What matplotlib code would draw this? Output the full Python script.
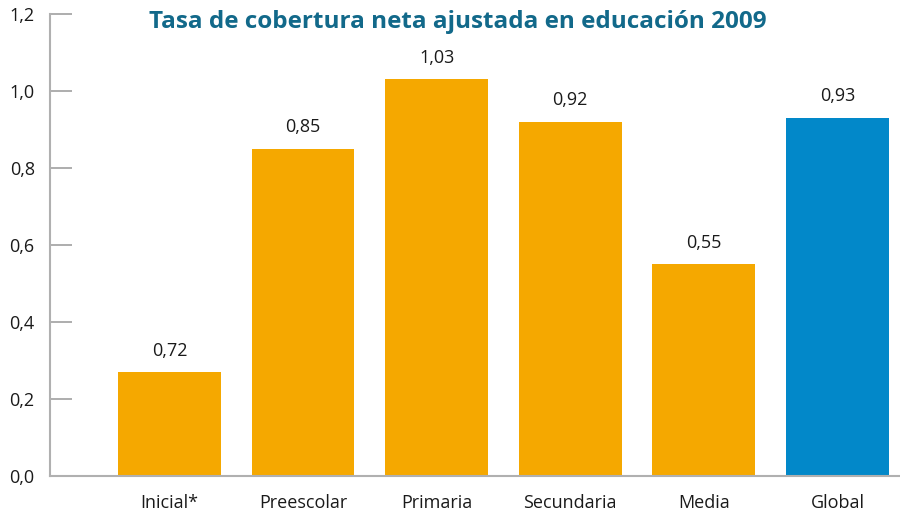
import matplotlib
matplotlib.use("Agg")
import matplotlib.pyplot as plt

categories = ["Inicial*", "Preescolar", "Primaria", "Secundaria", "Media", "Global"]
bar_values = [0.27, 0.85, 1.03, 0.92, 0.55, 0.93]
value_labels = ["0,72", "0,85", "1,03", "0,92", "0,55", "0,93"]
bar_colors = ["#F5A800", "#F5A800", "#F5A800", "#F5A800", "#F5A800", "#0288C9"]
yticks = [0.0, 0.2, 0.4, 0.6, 0.8, 1.0, 1.2]
ytick_labels = ["0,0", "0,2", "0,4", "0,6", "0,8", "1,0", "1,2"]

plt.rcParams['font.family'] = ['Open Sans', 'DejaVu Sans']

fig = plt.figure(figsize=(9, 5.13), dpi=100)
ax = fig.add_axes([50/900, 1-476/513, 1-50/900, (476-14)/513])

x = list(range(len(categories)))
ax.bar(x, bar_values, width=0.77, color=bar_colors, zorder=2)

for xi, v, lab in zip(x, bar_values, value_labels):
    ax.annotate(lab, (xi, v), xytext=(0, 9), textcoords='offset points',
                ha='center', va='bottom', fontsize=13, color='#1a1a1a')

ax.set_ylim(0, 1.2)
ax.set_xlim(-0.894, 5.468)
ax.set_yticks(yticks)
ax.set_yticklabels(ytick_labels, fontsize=13, color='#1a1a1a')
ax.set_xticks(x)
ax.set_xticklabels(categories, fontsize=13, color='#1a1a1a')

ax.tick_params(axis='y', direction='in', length=16, width=1.2, color='#a0a0a0', pad=11)
ax.tick_params(axis='x', length=0, pad=13)

for s in ['top', 'right']:
    ax.spines[s].set_visible(False)
for s in ['left', 'bottom']:
    ax.spines[s].set_color('#b0b0b0')
    ax.spines[s].set_linewidth(1.5)

fig.text(458/900, 1-22/513, "Tasa de cobertura neta ajustada en educación 2009",
         ha='center', va='center', fontsize=17.5, fontweight='bold', color='#12698A')

fig.savefig("out.png", dpi=100)
